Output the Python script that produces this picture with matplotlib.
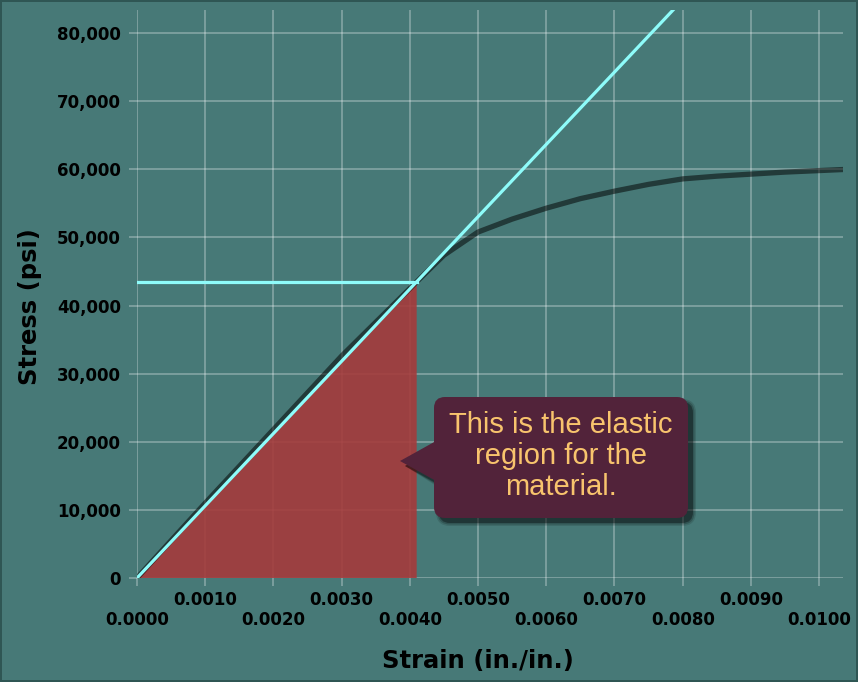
"""Stress-strain curve with the elastic region highlighted."""

import matplotlib

matplotlib.use("Agg")
import matplotlib.pyplot as plt
from matplotlib.patches import FancyBboxPatch, Polygon

# --- data -------------------------------------------------------------
strain_curve = [0.0, 0.0005, 0.0010, 0.0020, 0.0030, 0.0041, 0.0045, 0.0050, 0.0055,
                0.0060, 0.0065, 0.0070, 0.0075, 0.0080, 0.0085, 0.0090, 0.0095, 0.0104]
stress_curve = [0, 5500, 11000, 21800, 32600, 43500, 47400, 50800, 52700,
                54300, 55700, 56800, 57800, 58600, 59000, 59300, 59600, 60000]

elastic_strain = [0.0, 0.0041, 0.0080]
elastic_stress = [0, 43500, 84900]

yield_strain = 0.0041
yield_stress = 43500

odd_ticks = [0.0010, 0.0030, 0.0050, 0.0070, 0.0090]
even_ticks = [0.0000, 0.0020, 0.0040, 0.0060, 0.0080, 0.0100]
y_ticks = [0, 10000, 20000, 30000, 40000, 50000, 60000, 70000, 80000]

callout_lines = ["This is the elastic", "region for the", "material."]

# --- style ------------------------------------------------------------
BG = "#477977"
GRID = "white"
GRID_ALPHA = 0.3
CYAN = "#8efcfa"
RED = "#a53a3b"
BOX = "#52233a"
TEXT_ORANGE = "#f8c46d"
W, H = 858, 682

fig = plt.figure(figsize=(W / 100, H / 100), dpi=100)
fig.patch.set_facecolor(BG)
fig.patch.set_edgecolor("#2f5654")
fig.patch.set_linewidth(1.5)

ax = fig.add_axes([137 / W, 1 - 578 / H, (843 - 137) / W, (578 - 10) / H])
ax.set_facecolor(BG)
for spine in ax.spines.values():
    spine.set_visible(False)

ax.set_xlim(0, 0.01035)
ax.set_ylim(0, 83400)

ax.set_xticks(odd_ticks)
ax.set_xticklabels([f"{t:.4f}" for t in odd_ticks])
ax.set_xticks(even_ticks, minor=True)
ax.set_xticklabels([f"{t:.4f}" for t in even_ticks], minor=True)
ax.set_yticks(y_ticks)
ax.set_yticklabels([f"{t:,}" for t in y_ticks])

ax.grid(True, which="both", color=GRID, alpha=GRID_ALPHA, linewidth=1.3)
ax.tick_params(axis="both", which="both", direction="out", length=5.5, width=1.3,
               color=(1, 1, 1, GRID_ALPHA), labelsize=12)
ax.tick_params(axis="x", which="major", pad=4)
ax.tick_params(axis="x", which="minor", pad=18)
ax.tick_params(axis="y", pad=6)
for label in ax.get_xticklabels(which="both") + ax.get_yticklabels():
    label.set_fontweight("bold")
    label.set_color("black")
ax.set_axisbelow(True)

# elastic region
ax.add_patch(Polygon([(0, 0), (yield_strain, yield_stress), (yield_strain, 0)],
                     closed=True, facecolor=RED, edgecolor="none", alpha=0.9, zorder=2))

ax.plot(strain_curve, stress_curve, color="black", alpha=0.52, linewidth=3.8,
        solid_capstyle="butt", zorder=3)
ax.plot(elastic_strain, elastic_stress, color=CYAN, linewidth=2.3, zorder=4)
ax.plot([0, yield_strain], [yield_stress, yield_stress], color=CYAN, linewidth=2.3, zorder=4)

fig.text(478 / W, 1 - 661 / H, "Strain (in./in.)", ha="center", va="center",
         fontsize=17.5, fontweight="bold")
fig.text(30 / W, 1 - 307 / H, "Stress (psi)", ha="center", va="center", rotation=90,
         fontsize=17.5, fontweight="bold")

# callout bubble, drawn in figure pixel space
overlay = fig.add_axes([0, 0, 1, 1], facecolor="none")
overlay.set_xlim(0, W)
overlay.set_ylim(H, 0)
overlay.axis("off")

box_x0, box_y0, box_x1, box_y1 = 434, 397, 688, 518
tip = (400, 461)


def bubble(dx, dy, grow, color, alpha, z):
    overlay.add_patch(FancyBboxPatch((box_x0 + dx - grow, box_y0 + dy - grow),
                                     box_x1 - box_x0 + 2 * grow, box_y1 - box_y0 + 2 * grow,
                                     boxstyle=f"round,pad=0,rounding_size={11 + grow}",
                                     facecolor=color, edgecolor="none", alpha=alpha, zorder=z))
    overlay.add_patch(Polygon([(tip[0] + dx, tip[1] + dy), (box_x0 + 2 + dx, 441 + dy - grow),
                               (box_x0 + 2 + dx, 481 + dy + grow)],
                              closed=True, facecolor=color, edgecolor="none", alpha=alpha, zorder=z))


# soft drop shadow
for grow, alpha in ((3, 0.12), (1.5, 0.2), (0, 0.35)):
    bubble(5, 5, grow, "black", alpha, 5)
bubble(0, 0, 0, BOX, 1.0, 6)

overlay.text((box_x0 + box_x1) / 2, 456, "\n".join(callout_lines), ha="center", va="center",
             fontsize=21, color=TEXT_ORANGE, family="Liberation Sans", linespacing=1.15,
             zorder=7)

fig.savefig("out.png", dpi=100, facecolor=BG, edgecolor=fig.patch.get_edgecolor())
